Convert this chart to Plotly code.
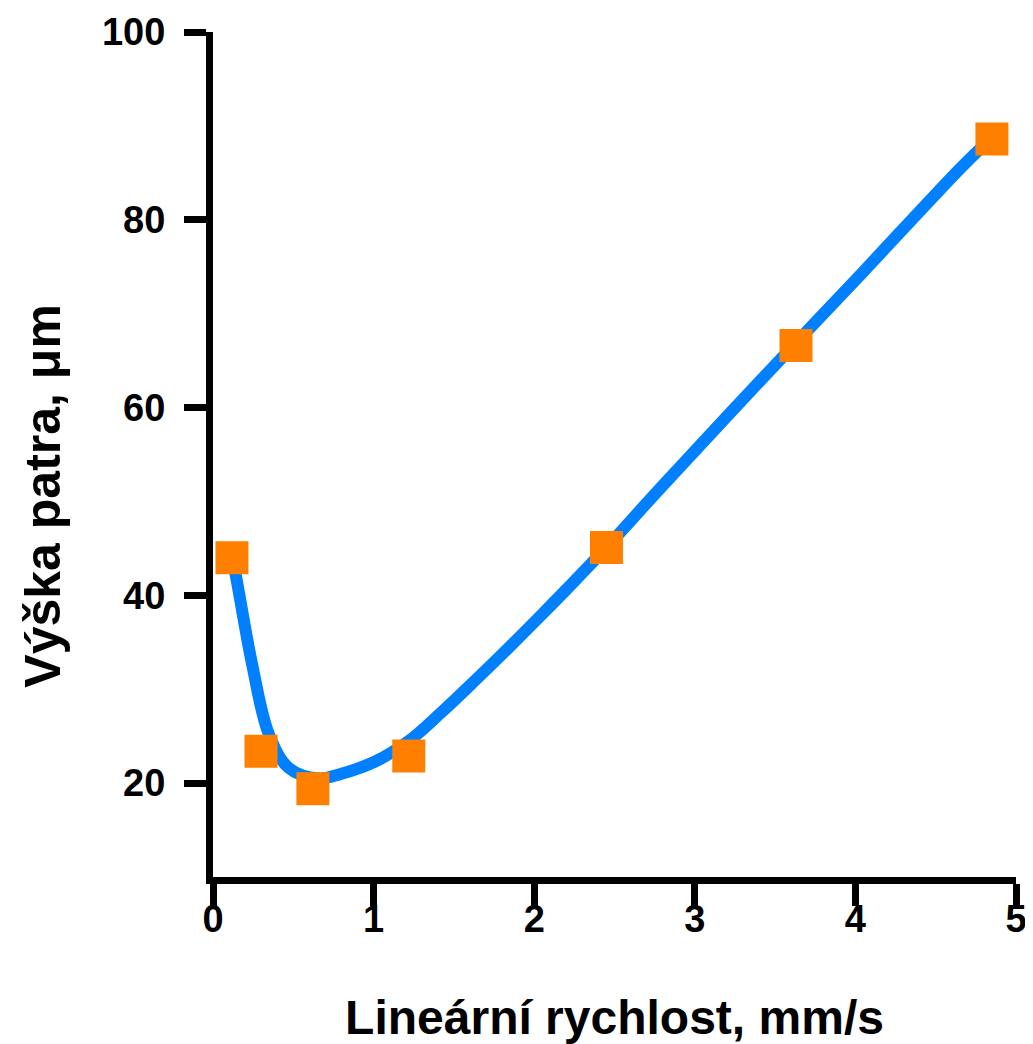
import plotly.graph_objects as go

# Measured points
speed = [0.118, 0.299, 0.622, 1.219, 2.45, 3.63, 4.85]
height = [44.0, 23.4, 19.4, 22.9, 45.1, 66.6, 88.6]

# Fitted smooth curve
curve_x = [0.118, 0.14, 0.243, 0.348, 0.473, 0.659, 0.80, 1.01, 1.22, 1.42,
           1.63, 1.84, 2.05, 2.25, 2.45, 2.79, 3.41, 4.04, 4.66, 4.84]
curve_y = [44.0, 42.3, 32.7, 25.2, 21.6, 20.5, 21.0, 22.3, 24.5, 27.5,
           30.9, 34.4, 38.0, 41.5, 45.1, 51.5, 62.9, 74.3, 85.6, 88.6]

x_ticks = [0, 1, 2, 3, 4, 5]
y_ticks = [20, 40, 60, 80, 100]

FONT = "Liberation Sans, Arial, sans-serif"

fig = go.Figure()
fig.add_trace(go.Scatter(x=curve_x, y=curve_y, mode="lines",
                         line=dict(color="#0080FF", width=12, shape="spline", smoothing=1.0),
                         showlegend=False, hoverinfo="skip"))
fig.add_trace(go.Scatter(x=speed, y=height, mode="markers",
                         marker=dict(symbol="square", size=33, color="#FF8000",
                                     line=dict(width=0)),
                         showlegend=False))

axis_common = dict(showline=True, linewidth=7, linecolor="black", ticks="outside",
                   ticklen=22, tickwidth=7, tickcolor="black", showgrid=False,
                   zeroline=False, mirror=False, automargin=False,
                   tickfont=dict(family=FONT, size=38, color="black", weight="bold"))

fig.update_xaxes(range=[0, 5], tickvals=x_ticks, ticklabelstandoff=-20, **axis_common,
                 title=dict(text="Lineární rychlost, mm/s", standoff=64,
                            font=dict(family=FONT, size=48, color="black", weight="bold")))
fig.update_yaxes(range=[10, 100], tickvals=y_ticks, ticklabelstandoff=11, **axis_common)

fig.add_annotation(text="Výška patra, μm", xref="paper", yref="paper",
                   x=-0.212, y=0.451, xanchor="center", yanchor="middle",
                   textangle=-90, showarrow=False,
                   font=dict(family=FONT, size=50, color="black", weight="bold"))

fig.update_layout(width=1025, height=1036, plot_bgcolor="white", paper_bgcolor="white",
                  margin=dict(l=205, r=17, t=24, b=167))

fig.write_html("out.html")
